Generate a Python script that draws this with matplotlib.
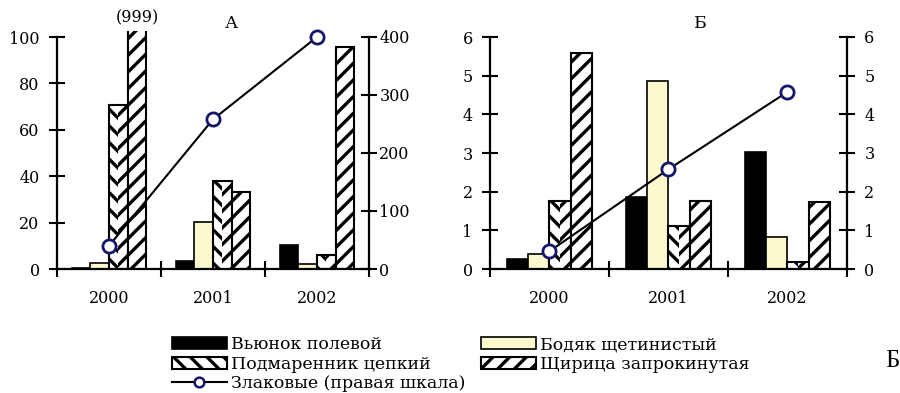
import matplotlib
matplotlib.use("Agg")
import matplotlib.pyplot as plt
import numpy as np
from matplotlib.patches import Patch
from matplotlib.lines import Line2D
from matplotlib.transforms import Bbox, TransformedBbox

# ---------------- data ----------------
years = ['2000', '2001', '2002']
names = ['Вьюнок полевой', 'Бодяк щетинистый', 'Подмаренник цепкий',
         'Щирица запрокинутая', 'Злаковые (правая шкала)']

A_vyunok = [0.3, 3.3, 10.5]
A_bodyak = [2.5, 20.3, 2.1]
A_podmar = [70.5, 38.0, 6.2]
A_shiritsa = [999, 33.3, 95.7]
A_zlak = [40, 258, 400]

B_vyunok = [0.25, 1.85, 3.03]
B_bodyak = [0.38, 4.86, 0.82]
B_podmar = [1.76, 1.10, 0.18]
B_shiritsa = [5.59, 1.75, 1.72]
B_zlak = [0.46, 2.58, 4.58]

A_ticks_left = [0, 20, 40, 60, 80, 100]
A_ticks_right = [0, 100, 200, 300, 400]
B_ticks = [0, 1, 2, 3, 4, 5, 6]

# ---------------- style ----------------
plt.rcParams['font.family'] = 'DejaVu Serif'
plt.rcParams['hatch.linewidth'] = 2.4
plt.rcParams['hatch.color'] = 'black'
YELLOW = '#FDF9CF'
NAVY = '#16166A'
LEG_FONT = {'family': 'DejaVu Serif', 'size': 12.5}

fig = plt.figure(figsize=(9, 3.93), dpi=100)

W = 0.18
offsets = np.array([-1.5, -0.5, 0.5, 1.5]) * W
x = np.arange(len(years))


def draw_panel(ax, series, ylim):
    clip = TransformedBbox(Bbox.from_extents(0, 0, 1, 1.027), ax.transAxes)
    arts = []
    v, b, p, s = series
    arts += ax.bar(x + offsets[0], v, W, color='black', edgecolor='black', lw=1.2)
    arts += ax.bar(x + offsets[1], b, W, color=YELLOW, edgecolor='black', lw=1.2)
    # chevron bars: left half "\" right half "/"
    arts += ax.bar(x + offsets[2], p, W, color='white', edgecolor='black', lw=0)
    arts += ax.bar(x + offsets[2] - W / 4, p, W / 2, fill=False, hatch='\\\\',
                   edgecolor='black', lw=0)
    arts += ax.bar(x + offsets[2] + W / 4, p, W / 2, fill=False, hatch='//',
                   edgecolor='black', lw=0)
    arts += ax.bar(x + offsets[2], p, W, fill=False, edgecolor='black', lw=1.5)
    # wedge bars
    arts += ax.bar(x + offsets[3], s, W, color='white', hatch='//',
                   edgecolor='black', lw=1.5)
    for a in arts:
        a.set_clip_box(clip)
    ax.set_xlim(-0.5, len(years) - 0.5)
    ax.set_ylim(*ylim)
    ax.set_xticks(np.arange(-0.5, len(years), 1.0))
    ax.set_xticklabels([])
    ax.set_xticks(x, minor=True)
    ax.set_xticklabels(years, minor=True)
    ax.tick_params(axis='x', which='major', direction='inout', length=12, width=1.5)
    ax.tick_params(axis='x', which='minor', length=0, pad=15, labelsize=11.5)
    ax.tick_params(axis='y', direction='inout', length=12, width=1.5, pad=6.5,
                   labelsize=11.5)
    for sp in ['top', 'right']:
        ax.spines[sp].set_visible(False)
    for sp in ['left', 'bottom']:
        ax.spines[sp].set_linewidth(1.6)


def draw_line(ax2, vals, ylim, ticks, pad):
    ax2.plot(x, vals, color='black', lw=1.5, marker='o', ms=9.5,
             mfc='white', mec=NAVY, mew=2, clip_on=False, zorder=5)
    ax2.set_ylim(*ylim)
    ax2.set_yticks(ticks)
    ax2.tick_params(axis='y', direction='inout', length=12, width=1.5, pad=pad,
                    labelsize=11.5)
    for sp in ['top', 'left', 'bottom']:
        ax2.spines[sp].set_visible(False)
    ax2.spines['right'].set_linewidth(1.6)


# Panel A
axA = fig.add_axes([57 / 900, 1 - 269 / 393, (369 - 57) / 900, (269 - 37) / 393])
draw_panel(axA, (A_vyunok, A_bodyak, A_podmar, A_shiritsa), (0, 100))
axA.set_yticks(A_ticks_left)
axA2 = axA.twinx()
draw_line(axA2, A_zlak, (0, 400), A_ticks_right, 1.5)
big = int(np.argmax(A_shiritsa))
axA.annotate('(%d)' % A_shiritsa[big], xy=(big + offsets[3], 100),
             xytext=(0, 13.5), textcoords='offset points',
             ha='center', va='center', fontsize=11.5, annotation_clip=False)

# Panel B
axB = fig.add_axes([490 / 900, 1 - 269 / 393, (847 - 490) / 900, (269 - 37) / 393])
draw_panel(axB, (B_vyunok, B_bodyak, B_podmar, B_shiritsa), (0, 6))
axB.set_yticks(B_ticks)
axB2 = axB.twinx()
draw_line(axB2, B_zlak, (0, 6), B_ticks, 6.5)

# Titles
fig.text(231 / 900, 1 - 24 / 393, 'А', ha='center', va='center', fontsize=12.5)
fig.text(700 / 900, 1 - 24 / 393, 'Б', ha='center', va='center', fontsize=12.5)
fig.text(892 / 900, 1 - 361 / 393, 'Б', ha='center', va='center',
         fontsize=18, family='Liberation Serif')

# Legend (two columns placed separately)
h_vy = Patch(facecolor='black', edgecolor='black', lw=1.2)
h_po = Patch(facecolor='white', edgecolor='black', hatch='\\\\', lw=1.5)
h_zl = Line2D([0], [0], color='black', lw=1.5, marker='o', ms=7,
              mfc='white', mec=NAVY, mew=1.8)
h_bo = Patch(facecolor=YELLOW, edgecolor='black', lw=1.2)
h_sh = Patch(facecolor='white', edgecolor='black', hatch='//', lw=1.5)

common = dict(loc='upper left', frameon=False, prop=LEG_FONT, borderpad=0,
              borderaxespad=0, handlelength=3.16, handleheight=0.69,
              handletextpad=0.25, labelspacing=0.15)
leg1 = fig.legend([h_vy, h_po, h_zl], [names[0], names[2], names[4]],
                  bbox_to_anchor=(172 / 900, 1 - 336 / 393), **common)
leg2 = fig.legend([h_bo, h_sh], [names[1], names[3]],
                  bbox_to_anchor=(481 / 900, 1 - 336 / 393), **common)

fig.savefig('out.png', dpi=100)
